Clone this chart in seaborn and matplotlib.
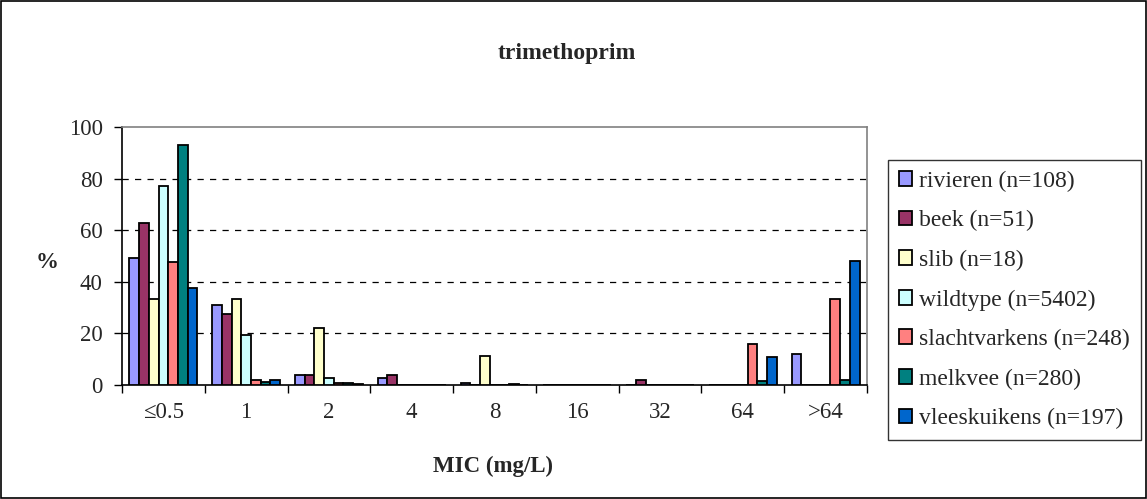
import numpy as np
import pandas as pd
import matplotlib
matplotlib.use("Agg")
import matplotlib.pyplot as plt
import seaborn as sns
from matplotlib.patches import Rectangle
from matplotlib.ticker import FixedLocator, NullFormatter

categories = ["≤0.5", "1", "2", "4", "8", "16", "32", "64", ">64"]
series = ["rivieren (n=108)", "beek (n=51)", "slib (n=18)", "wildtype (n=5402)",
          "slachtvarkens (n=248)", "melkvee (n=280)", "vleeskuikens (n=197)"]
rivieren      = [49.1, 31.1, 3.7, 2.8, 0.9, 0, 0, 0, 12.0]
beek          = [62.7, 27.5, 3.9, 3.9, 0, 0, 2.0, 0, 0]
slib          = [33.3, 33.3, 22.2, 0, 11.1, 0, 0, 0, 0]
wildtype      = [77.2, 19.3, 2.7, 0, 0, 0, 0, 0, 0]
slachtvarkens = [47.6, 2.0, 0.8, 0, 0, 0, 0, 15.7, 33.5]
melkvee       = [93.2, 1.1, 0.7, 0, 0.4, 0, 0, 1.4, 2.1]
vleeskuikens  = [37.6, 2.0, 0.5, 0, 0, 0, 0, 10.7, 48.0]
colors = ["#9999FF", "#993366", "#FFFFCC", "#CCFFFF", "#FF8080", "#008080", "#0066CC"]

values = [rivieren, beek, slib, wildtype, slachtvarkens, melkvee, vleeskuikens]
rows = []
for s, vals in zip(series, values):
    for c, v in zip(categories, vals):
        rows.append({"MIC": c, "pct": v, "serie": s})
df = pd.DataFrame(rows)

sns.set_style("white")
plt.rcParams["font.family"] = ["Liberation Serif", "DejaVu Serif"]

fig = plt.figure(figsize=(11.47, 4.99), dpi=100)
ax = fig.add_axes([122/1147, 1-385/499, (867-122)/1147, (385-127)/499])

sns.barplot(data=df, x="MIC", y="pct", hue="serie", order=categories,
            hue_order=series, palette=colors, width=0.82, gap=0,
            edgecolor="black", linewidth=1.3, saturation=1, ax=ax, zorder=3)

ax.set_xlim(-0.5, len(categories) - 0.5)
ax.set_ylim(0, 100)
ax.set_yticks([0, 20, 40, 60, 80, 100])
for y in [20, 40, 60, 80]:
    ax.axhline(y, color="black", linestyle=(0, (5, 5)), linewidth=0.9, zorder=1)

ax.xaxis.set_minor_locator(FixedLocator(np.arange(-0.5, len(categories), 1.0)))
ax.xaxis.set_minor_formatter(NullFormatter())
ax.tick_params(axis="x", which="major", length=0, pad=12, labelsize=16.5)
ax.tick_params(axis="x", which="minor", length=6, width=1, color="black", direction="out", bottom=True)
ax.tick_params(axis="y", length=6, width=1, color="black", direction="out", left=True, labelsize=16.5, pad=8)

for side in ["top", "right"]:
    ax.spines[side].set_color("#808080")
    ax.spines[side].set_linewidth(1.2)
for side in ["left", "bottom"]:
    ax.spines[side].set_color("black")
    ax.spines[side].set_linewidth(1.2)

ax.set_xlabel("MIC (mg/L)", fontsize=16.5, fontweight="bold")
ax.xaxis.set_label_coords((493-122)/745, -(466-385)/258)
ax.xaxis.label.set_va("center")
ax.set_ylabel("%", fontsize=16.5, fontweight="bold", rotation=0, va="center", ha="center")
ax.yaxis.set_label_coords(-(122-47)/745, (385-262)/258)
fig.text(567/1147, 1-53/499, "trimethoprim", ha="center", va="center",
         fontsize=17, fontweight="bold")

leg = ax.legend(loc="upper left", bbox_to_anchor=(888/1147, 1-160/499),
                bbox_transform=fig.transFigure, frameon=True, fancybox=False,
                edgecolor="black", fontsize=17, handlelength=0.58, handleheight=0.58,
                handletextpad=0.3, labelspacing=0.78, borderpad=0.45, borderaxespad=0)
leg.get_frame().set_linewidth(1.0)
for h in leg.legend_handles:
    h.set_edgecolor("black")
    h.set_linewidth(1.3)

fig.patches.append(Rectangle((0.001, 0.002), 0.998, 0.996, transform=fig.transFigure,
                             fill=False, edgecolor="black", linewidth=1.2))

fig.savefig("out.png", dpi=100)
